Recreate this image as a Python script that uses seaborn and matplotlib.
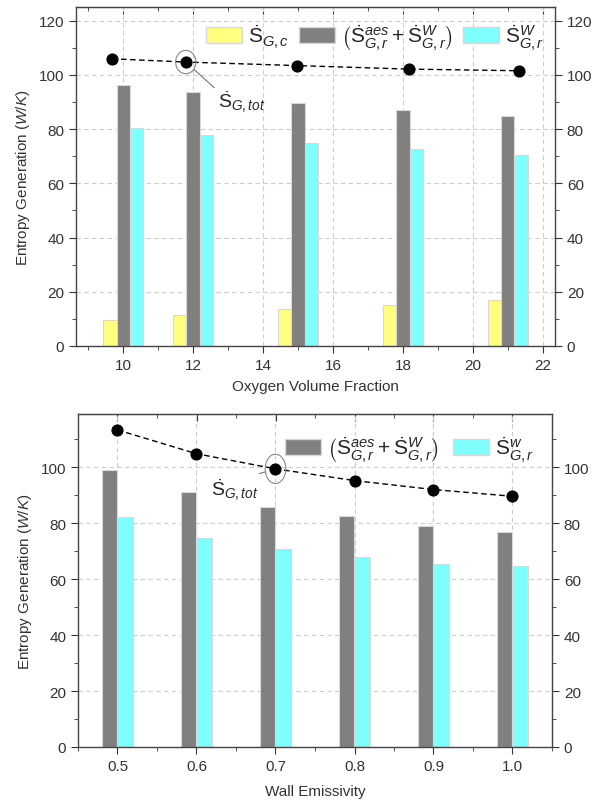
import numpy as np
import seaborn as sns
from matplotlib import pyplot as plt
from matplotlib.patches import Ellipse, Patch
from matplotlib.ticker import MultipleLocator, AutoMinorLocator

# oxygen volume fraction panel
oxygen = [10, 12, 15, 18, 21]
ox_tot_x = [9.68, 11.79, 14.97, 18.16, 21.31]
ox_sgc = [9.5, 11.6, 13.8, 15.3, 16.8]
ox_sgr = [96.3, 93.6, 89.6, 86.9, 84.9]
ox_sgrw = [80.4, 77.7, 74.9, 72.7, 70.6]
ox_tot = [105.9, 104.7, 103.4, 102.1, 101.5]

# wall emissivity panel
emis = [0.5, 0.6, 0.7, 0.8, 0.9, 1.0]
em_sgr = [99.0, 91.1, 85.9, 82.4, 78.9, 76.8]
em_sgrw = [82.1, 74.8, 70.8, 67.9, 65.5, 64.6]
em_tot = [113.3, 104.8, 99.4, 95.2, 92.0, 89.6]

lbl_c = r'$\dot{\mathrm{S}}_{G,c}$'
lbl_r = r'$\left(\dot{\mathrm{S}}_{G,r}^{aes}+\dot{\mathrm{S}}_{G,r}^{W}\right)$'
lbl_w = r'$\dot{\mathrm{S}}_{G,r}^{W}$'
lbl_w2 = r'$\dot{\mathrm{S}}_{G,r}^{w}$'
lbl_tot = r'$\dot{\mathrm{S}}_{G,tot}$'
ylab = r'Entropy Generation ($\mathit{W/K}$)'

sns.set_style('ticks')
plt.rcParams['font.family'] = ['Liberation Sans', 'DejaVu Sans']
plt.rcParams['mathtext.fontset'] = 'custom'
plt.rcParams['mathtext.rm'] = 'Liberation Sans'
plt.rcParams['mathtext.it'] = 'Liberation Sans:italic'
plt.rcParams['mathtext.bf'] = 'Liberation Sans:bold'

yellow = '#ffff80'
grey = '#808080'
cyan = '#80ffff'
edge = '#d8d8d8'


def style_axes(ax, major, ylim, xlim):
    ax.set_xlim(*xlim)
    ax.set_ylim(*ylim)
    ax.xaxis.set_major_locator(MultipleLocator(major))
    ax.xaxis.set_minor_locator(AutoMinorLocator(2))
    ax.yaxis.set_major_locator(MultipleLocator(20))
    ax.yaxis.set_minor_locator(AutoMinorLocator(2))
    ax.grid(True, which='major', color='#cccccc', ls=(0, (4, 3)), lw=0.8)
    ax.set_axisbelow(True)
    ax.tick_params(which='both', direction='out', right=True, labelright=True,
                   top=False, colors='#333333', labelsize=11)
    ax.tick_params(which='major', length=5)
    ax.tick_params(which='minor', length=3)
    for s in ax.spines.values():
        s.set_color('#444444')
        s.set_linewidth(1.0)
    # inward ticks along the top frame
    sec = ax.secondary_xaxis('top')
    sec.xaxis.set_major_locator(MultipleLocator(major))
    sec.xaxis.set_minor_locator(AutoMinorLocator(2))
    sec.tick_params(which='both', direction='in', labeltop=False, colors='#333333')
    sec.tick_params(which='major', length=5)
    sec.tick_params(which='minor', length=3)
    sec.spines['top'].set_color('#444444')
    ax.set_ylabel(ylab, fontsize=11, color='#333333', labelpad=5)


fig = plt.figure(figsize=(6, 8.03), dpi=100)

####################################
# OXYGEN VOLUME FRACTION
####################################
ax1 = fig.add_axes([76 / 600, 1 - 347 / 803, (555 - 76) / 600, (347 - 8) / 803])
w1 = 0.38
x1 = np.array(oxygen, dtype=float)
ax1.bar(x1 - w1, ox_sgc, width=w1, color=yellow, edgecolor=edge, lw=0.8, label=lbl_c)
ax1.bar(x1, ox_sgr, width=w1, color=grey, edgecolor=edge, lw=0.8, label=lbl_r)
ax1.bar(x1 + w1, ox_sgrw, width=w1, color=cyan, edgecolor=edge, lw=0.8, label=lbl_w)
sns.lineplot(x=ox_tot_x, y=ox_tot, ax=ax1, color='k', lw=1, linestyle=(0, (4, 2.5)),
             marker='o', markersize=8, markeredgecolor='k', legend=False)
style_axes(ax1, 2, (0, 125), (8.65, 22.35))
ax1.set_xlabel('Oxygen Volume Fraction', fontsize=11, color='#333333', labelpad=5)

ax1.add_patch(Ellipse((ox_tot_x[1], ox_tot[1]), 0.58, 8.6, fill=False,
                      ec='#888888', lw=0.8, zorder=5))
ax1.annotate(lbl_tot, xy=(ox_tot_x[1], ox_tot[1]), xytext=(40, -28),
             textcoords='offset points', fontsize=14, ha='center', va='center',
             arrowprops=dict(arrowstyle='-', color='#777777', lw=0.8,
                             relpos=(0.0, 0.9), shrinkA=0, shrinkB=8))

handles = [Patch(fc=yellow, ec=edge), Patch(fc=grey, ec=edge), Patch(fc=cyan, ec=edge)]
ax1.legend(handles, [lbl_c, lbl_r, lbl_w], ncol=3, frameon=False, fontsize=15,
           loc='upper center', bbox_to_anchor=(0.625, 1.01), handlelength=1.7,
           handleheight=0.8, handletextpad=0.3, columnspacing=0.5)

####################################
# WALL EMISSIVITY
####################################
ax2 = fig.add_axes([78 / 600, 1 - 748 / 803, (552 - 78) / 600, (748 - 415) / 803])
w2 = 0.02
x2 = np.array(emis)
ax2.bar(x2 - w2, em_sgr, width=w2, align='edge', color=grey, edgecolor=edge, lw=0.8)
ax2.bar(x2, em_sgrw, width=w2, align='edge', color=cyan, edgecolor=edge, lw=0.8)
sns.lineplot(x=emis, y=em_tot, ax=ax2, color='k', lw=1, linestyle=(0, (4, 2.5)),
             marker='o', markersize=8, markeredgecolor='k', legend=False)
style_axes(ax2, 0.1, (0, 119), (0.45, 1.05))
ax2.set_yticks([0, 20, 40, 60, 80, 100])
ax2.set_xticks(emis)
ax2.set_xticklabels(['%.1f' % e for e in emis])
ax2.set_xlabel('Wall Emissivity', fontsize=11, color='#333333', labelpad=8)

ax2.add_patch(Ellipse((emis[2], em_tot[2]), 0.026, 10.5, fill=False,
                      ec='#888888', lw=0.8, zorder=5))
ax2.annotate(lbl_tot, xy=(emis[2], em_tot[2]), xytext=(-29, -15),
             textcoords='offset points', fontsize=14, ha='center', va='center',
             arrowprops=dict(arrowstyle='-', color='#777777', lw=0.8,
                             relpos=(0.5, 0.85), shrinkA=0, shrinkB=8))

handles = [Patch(fc=grey, ec=edge), Patch(fc=cyan, ec=edge)]
ax2.legend(handles, [lbl_r, lbl_w2], ncol=2, frameon=False, fontsize=15,
           loc='upper center', bbox_to_anchor=(0.70, 0.995), handlelength=1.7,
           handleheight=0.8, handletextpad=0.3, columnspacing=0.7)

fig.savefig('out.png', dpi=100)
